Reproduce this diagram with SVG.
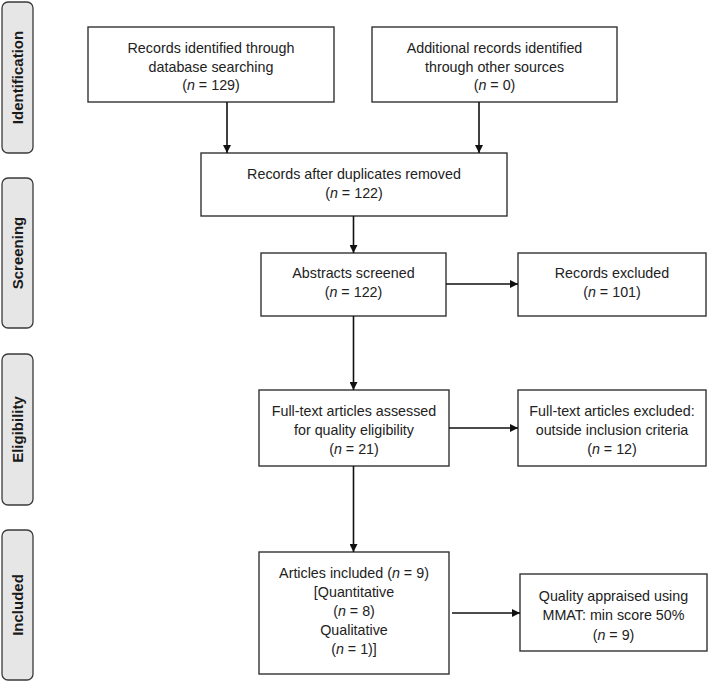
<svg xmlns="http://www.w3.org/2000/svg" width="709" height="682" viewBox="0 0 709 682">
<style>
.side{fill:#e6e6e6;stroke:#3a3a3a;stroke-width:1.3}
.box{fill:#fff;stroke:#333;stroke-width:1.4}
.st{font-family:"Liberation Sans",Arial,sans-serif;font-size:15px;font-weight:bold;fill:#1a1a1a;text-anchor:middle}
.t{font-family:"Liberation Sans",Arial,sans-serif;font-size:14.3px;fill:#222;text-anchor:middle}
.c{stroke:#111;stroke-width:1.6;fill:none;marker-end:url(#ah)}
</style>
<defs>
<marker id="ah" viewBox="0 0 10 10" refX="10" refY="5" markerWidth="8" markerHeight="8" markerUnits="userSpaceOnUse" orient="auto">
<path d="M0,0 L10,5 L0,10 z" fill="#111"/>
</marker>
</defs>
<rect width="709" height="682" fill="#fff"/>
<g id="stage-identification"><rect class="side" x="2" y="2" width="31" height="151" rx="6"/><text class="st" transform="translate(22.5,77.5) rotate(-90)">Identification</text></g>
<g id="stage-screening"><rect class="side" x="2" y="178" width="31" height="150" rx="6"/><text class="st" transform="translate(22.5,253) rotate(-90)">Screening</text></g>
<g id="stage-eligibility"><rect class="side" x="2" y="354" width="31" height="151" rx="6"/><text class="st" transform="translate(22.5,429.5) rotate(-90)">Eligibility</text></g>
<g id="stage-included"><rect class="side" x="2" y="530" width="31" height="150" rx="6"/><text class="st" transform="translate(22.5,605) rotate(-90)">Included</text></g>

<g id="n-database"><rect class="box" x="88" y="27" width="246" height="75"/>
<text class="t" x="211" y="53">Records identified through</text>
<text class="t" x="211" y="71.5">database searching</text>
<text class="t" x="211" y="90">(<tspan font-style="italic">n</tspan> = 129)</text></g>

<g id="n-other"><rect class="box" x="372" y="27" width="245" height="75"/>
<text class="t" x="494.5" y="53">Additional records identified</text>
<text class="t" x="494.5" y="71.5">through other sources</text>
<text class="t" x="494.5" y="90">(<tspan font-style="italic">n</tspan> = 0)</text></g>

<g id="n-dedup"><rect class="box" x="201" y="153" width="306" height="63"/>
<text class="t" x="354" y="179">Records after duplicates removed</text>
<text class="t" x="354" y="198">(<tspan font-style="italic">n</tspan> = 122)</text></g>

<g id="n-abstracts"><rect class="box" x="261" y="253" width="185" height="63"/>
<text class="t" x="353.5" y="278">Abstracts screened</text>
<text class="t" x="353.5" y="297">(<tspan font-style="italic">n</tspan> = 122)</text></g>

<g id="n-excluded"><rect class="box" x="518" y="253" width="188" height="63"/>
<text class="t" x="612" y="278">Records excluded</text>
<text class="t" x="612" y="297">(<tspan font-style="italic">n</tspan> = 101)</text></g>

<g id="n-fulltext"><rect class="box" x="259" y="390" width="190" height="76"/>
<text class="t" x="354" y="416">Full-text articles assessed</text>
<text class="t" x="354" y="435">for quality eligibility</text>
<text class="t" x="354" y="454">(<tspan font-style="italic">n</tspan> = 21)</text></g>

<g id="n-ftexcluded"><rect class="box" x="518" y="390" width="188" height="76"/>
<text class="t" x="612" y="416">Full-text articles excluded:</text>
<text class="t" x="612" y="435">outside inclusion criteria</text>
<text class="t" x="612" y="454">(<tspan font-style="italic">n</tspan> = 12)</text></g>

<g id="n-included"><rect class="box" x="259" y="552" width="190" height="122"/>
<text class="t" x="354" y="578">Articles included (<tspan font-style="italic">n</tspan> = 9)</text>
<text class="t" x="354" y="597">[Quantitative</text>
<text class="t" x="354" y="616">(<tspan font-style="italic">n</tspan> = 8)</text>
<text class="t" x="354" y="635">Qualitative</text>
<text class="t" x="354" y="653.5">(<tspan font-style="italic">n</tspan> = 1)]</text></g>

<g id="n-quality"><rect class="box" x="520" y="574" width="187" height="77"/>
<text class="t" x="613.5" y="601">Quality appraised using</text>
<text class="t" x="613.5" y="620">MMAT: min score 50%</text>
<text class="t" x="613.5" y="639.5">(<tspan font-style="italic">n</tspan> = 9)</text></g>

<g id="connectors">
<line class="c" x1="227" y1="102" x2="227" y2="153"/>
<line class="c" x1="479" y1="102" x2="479" y2="153"/>
<line class="c" x1="353.5" y1="216" x2="353.5" y2="253"/>
<line class="c" x1="446" y1="284" x2="518" y2="284"/>
<line class="c" x1="353.5" y1="316" x2="353.5" y2="390"/>
<line class="c" x1="449" y1="428" x2="518" y2="428"/>
<line class="c" x1="353.5" y1="466" x2="353.5" y2="552"/>
<line class="c" x1="452" y1="613" x2="520" y2="613"/>
</g>
</svg>
